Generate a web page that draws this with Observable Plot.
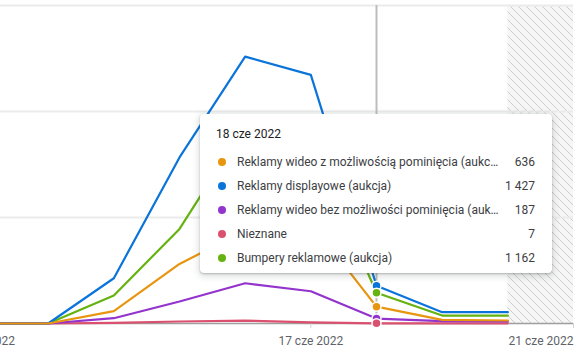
<!DOCTYPE html>
<html>
<head>
<meta charset="utf-8">
<script src="https://cdn.jsdelivr.net/npm/d3@7"></script>
<script src="https://cdn.jsdelivr.net/npm/@observablehq/plot@0.6"></script>
<style>
  html, body { margin: 0; padding: 0; background: #fff; }
  #wrap { position: relative; width: 587px; height: 354px; overflow: hidden; font-family: Roboto, sans-serif; }
  #tip {
    position: absolute; left: 200px; top: 114px; width: 352px; height: 159px;
    box-sizing: border-box; padding: 12px 17px 0 16px;
    background: #fff; border-radius: 4px;
    box-shadow: 0 1px 2px rgba(60,64,67,.3), 0 2px 6px 2px rgba(60,64,67,.15);
    font-size: 12px; color: #3c4043;
  }
  #tip .title { line-height: 16px; color: #202124; margin-bottom: 8px; }
  #tip .row { display: flex; align-items: center; height: 24px; }
  #tip .dot { width: 8px; height: 8px; border-radius: 50%; margin-left: 2px; margin-right: 11px; flex: none; }
  #tip .lab { flex: none; width: 262px; white-space: nowrap; overflow: hidden; text-overflow: ellipsis; }
  #tip .val { flex: 1; text-align: right; }
</style>
</head>
<body>
<div id="wrap"></div>
<script>
// ---- data ----
const dates = ["2022-06-12","2022-06-13","2022-06-14","2022-06-15","2022-06-16","2022-06-17","2022-06-18","2022-06-19","2022-06-20"];
const seriesNames = [
  "Reklamy wideo z możliwością pominięcia (aukcja)",
  "Reklamy displayowe (aukcja)",
  "Reklamy wideo bez możliwości pominięcia (aukcja)",
  "Nieznane",
  "Bumpery reklamowe (aukcja)"
];
const seriesColors = ["#e8950f", "#0a74da", "#9334cc", "#da506e", "#65b211"];
const skippableVideo    = [0, 0, 464, 2249, 3504, 3813, 636, 139, 113];
const display           = [0, 0, 1707, 6266, 10072, 9382, 1427, 426, 426];
const nonSkippableVideo = [0, 0, 200, 829, 1519, 1217, 187, 87, 75];
const unknown           = [0, 0, 20, 75, 110, 40, 7, 7, 5];
const bumpers           = [0, 0, 1055, 3568, 7450, 6800, 1162, 300, 300];
const seriesValues = [skippableVideo, display, nonSkippableVideo, unknown, bumpers];
const yGrid = [4000, 8000, 12000];
const tickDates = ["2022-06-12", "2022-06-17", "2022-06-21"];
const hoverDate = "2022-06-18";
const partialFrom = "2022-06-20";
const partialTo = "2022-06-21";
const monthsPl = ["sty","lut","mar","kwi","maj","cze","lip","sie","wrz","paź","lis","gru"];

// ---- helpers ----
const noon = s => new Date(s + "T12:00:00Z");
const fmtDate = d => `${d.getUTCDate()} ${monthsPl[d.getUTCMonth()]} ${d.getUTCFullYear()}`;
const fmtNum = d3.formatLocale({decimal: ",", thousands: " ", grouping: [3], currency: ["", " zł"]}).format(",d");

const rows = [];
seriesNames.forEach((name, i) => {
  dates.forEach((d, j) => rows.push({series: name, date: noon(d), value: seriesValues[i][j]}));
});
const lineRows = rows.slice().sort((a, b) => seriesNames.indexOf(b.series) - seriesNames.indexOf(a.series));
const hover = noon(hoverDate);
const hoverRows = rows.filter(r => +r.date === +hover);
const ticks = tickDates.map(noon);

const xDomain = [new Date(+noon("2022-06-12") + 0.274 * 864e5), noon("2022-06-21")];

const plot = Plot.plot({
  width: 587,
  height: 354,
  marginLeft: 0,
  marginRight: 14,
  marginTop: 5,
  marginBottom: 31,
  style: {fontFamily: "Roboto, sans-serif", fontSize: "12px", background: "#fff", overflow: "hidden"},
  x: {type: "utc", domain: xDomain, axis: null},
  y: {domain: [0, 12000], axis: null},
  color: {domain: seriesNames, range: seriesColors},
  marks: [
    Plot.rect([{from: noon(partialFrom), to: noon(partialTo)}], {x1: "from", x2: "to", y1: 0, y2: 12000, fill: "url(#hatch)"}),
    Plot.ruleY(yGrid, {stroke: "#ebebeb", strokeWidth: 2}),
    Plot.ruleX([hover], {stroke: "#bdbdbd", strokeWidth: 2, y1: 0, y2: 12000}),
    Plot.ruleY([0], {stroke: "#9e9e9e", strokeWidth: 1.5}),
    Plot.axisX({ticks: ticks, tickSize: 5, tickFormat: () => "", stroke: "#d6d6d6"}),
    Plot.text(ticks.slice(0, 2), {x: d => d, text: fmtDate, frameAnchor: "bottom", lineAnchor: "middle", dy: 18, fill: "#5f6368", fontSize: 12}),
    Plot.text(ticks.slice(2), {x: d => d, text: fmtDate, frameAnchor: "bottom", lineAnchor: "middle", dy: 18, textAnchor: "end", fill: "#5f6368", fontSize: 12}),
    Plot.line(lineRows, {x: "date", y: "value", z: "series", stroke: "series", strokeWidth: 2.2}),
    Plot.dot(hoverRows, {x: "date", y: "value", fill: "series", stroke: "#fff", strokeWidth: 1.5, r: 4.5})
  ]
});

const defs = d3.select(plot).insert("defs", ":first-child");
const pat = defs.append("pattern").attr("id", "hatch").attr("patternUnits", "userSpaceOnUse").attr("width", 8).attr("height", 8);
pat.append("rect").attr("width", 8).attr("height", 8).attr("fill", "#f6f6f6");
pat.append("path").attr("d", "M0,0L8,8M-2,6L2,10M6,-2L10,2").attr("stroke", "#cdcdcd").attr("stroke-width", 1);

const wrap = document.getElementById("wrap");
wrap.appendChild(plot);

// ---- tooltip ----
const tip = document.createElement("div");
tip.id = "tip";
const title = document.createElement("div");
title.className = "title";
title.textContent = fmtDate(hover);
tip.appendChild(title);
seriesNames.forEach((name, i) => {
  const r = hoverRows.find(h => h.series === name);
  const row = document.createElement("div");
  row.className = "row";
  const dot = document.createElement("span");
  dot.className = "dot";
  dot.style.background = seriesColors[i];
  const lab = document.createElement("span");
  lab.className = "lab";
  lab.textContent = name;
  const val = document.createElement("span");
  val.className = "val";
  val.textContent = fmtNum(r.value);
  row.append(dot, lab, val);
  tip.appendChild(row);
});
wrap.appendChild(tip);
</script>
</body>
</html>
